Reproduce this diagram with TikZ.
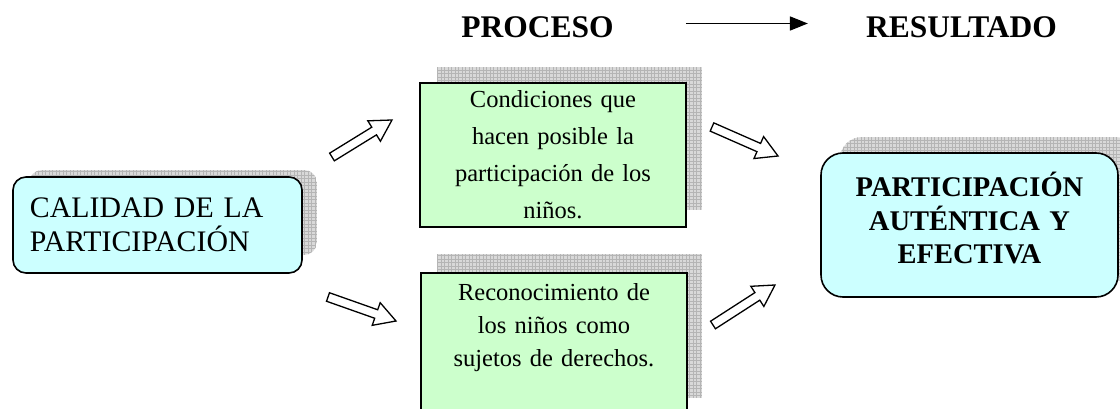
\documentclass[tikz,border=0pt]{standalone}
\usepackage{fontspec}
\setmainfont{Liberation Serif}
\usetikzlibrary{calc,arrows.meta}
\definecolor{boxcyan}{HTML}{CCFFFF}
\definecolor{boxgreen}{HTML}{CCFFCC}
\tikzset{rbox/.style = {draw, line width=1.6pt, fill=boxcyan, rounded corners=13pt},
    gbox/.style = {draw, line width=1.6pt, fill=boxgreen, align=center, text width=240pt, inner xsep=13pt},
    gridline/.style = {draw=gray!58, line width=0.6pt},
    hollow/.style = {draw, line width=1.3pt, fill=white, line join=miter},
    hdr/.style = {font=\fontsize{31.5}{36}\selectfont\bfseries, inner sep=0pt}}

\begin{document}
\begin{tikzpicture}[x=1pt, y=-1pt]
        \useasboundingbox (0,0) rectangle (1120,409);
        \clip (0,0) rectangle (1120,409);

        % shadows
        \foreach \xa/\ya/\xb/\yb/\r in {29/170/317/255/13, 437/67/702/210/0, 437/254/702/398/0, 840/137/1137/281/22} {
            \begin{scope}
                \clip[rounded corners=\r pt] (\xa,\ya) rectangle (\xb,\yb);
                \fill[gray!30] (\xa,\ya) rectangle (\xb,\yb);
                \draw[gridline, step=3.5pt] (\xa,\ya) grid (\xb,\yb);
            \end{scope}
        }

        \node[rbox, align=left, text width=255pt, inner xsep=17pt, minimum height=96pt,
              font=\fontsize{29.8}{34}\selectfont] (calidad) at (157.5,225) {CALIDAD DE LA\\PARTICIPACIÓN};
        \node[gbox, inner ysep=4pt, minimum height=144pt, font=\fontsize{24.5}{37}\selectfont]
              (cond) at (553,155) {Condiciones que\\hacen posible la\\participación de los\\niños.};
        \node[gbox, anchor=north, inner ysep=11pt, font=\fontsize{24.5}{33}\selectfont]
              (recon) at (554,272) {Reconocimiento de\\los niños como\\sujetos de derechos.\\[20pt]\mbox{}};
        \node[rbox, rounded corners=22pt, align=center, text width=270pt, inner xsep=13.5pt, minimum height=144pt,
              font=\fontsize{28.5}{33.5}\selectfont\bfseries] (part) at (969.5,225)
              {PARTICIPACIÓN\\AUTÉNTICA Y\\EFECTIVA\\[-19.5pt]\mbox{}};

        \node[hdr] (proceso) at (537.5,27.5) {PROCESO};
        \node[hdr] (resultado) at (961.5,27.5) {RESULTADO};
        \draw[line width=1.6pt, -{Triangle[length=18pt,width=14pt]}, shorten <=72pt, shorten >=58pt]
              ([yshift=4pt]proceso.east) -- ([yshift=4pt]resultado.west);

        % hollow arrows
        \coordinate (ua) at (332,157); \coordinate (ub) at (392,120);
        \coordinate (da) at (328,297); \coordinate (db) at (396,321);
        \coordinate (ra) at (712,127); \coordinate (rb) at (778,156);
        \coordinate (sa) at (713,325); \coordinate (sb) at (775,285);
        \foreach \p/\q in {ua/ub, da/db, ra/rb, sa/sb} {
            \coordinate (h) at ($(\q)!21pt!(\p)$);
            \draw[hollow] ($(\p)!4.5pt!90:(\q)$) -- ($(h)!4.5pt!90:(\q)$) -- ($(h)!12pt!90:(\q)$) -- (\q)
                -- ($(h)!12pt!-90:(\q)$) -- ($(h)!4.5pt!-90:(\q)$) -- ($(\p)!4.5pt!-90:(\q)$) -- cycle;
        }
\end{tikzpicture}
\end{document}
